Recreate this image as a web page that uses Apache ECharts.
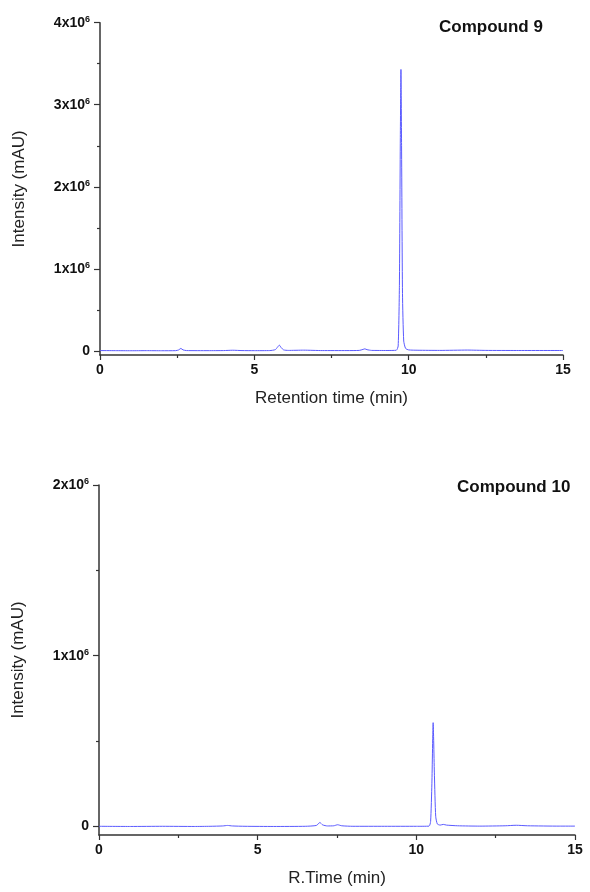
<!DOCTYPE html>
<html>
<head>
<meta charset="utf-8">
<script src="https://cdn.jsdelivr.net/npm/echarts@6/dist/echarts.min.js"></script>
<style>html,body{margin:0;padding:0;background:#fff}#c{width:590px;height:892px}</style>
</head>
<body>
<div id="c"></div>
<script>
// ---- Data (Compound 9) ----
var times9 = [0, 0.5, 1.0, 1.5, 2.0, 2.45, 2.55, 2.62, 2.69, 2.8, 3.5, 4.0, 4.3, 4.6, 5.0, 5.5, 5.68, 5.75, 5.81, 5.87, 5.95, 6.1, 6.6, 7.2, 8.0, 8.4, 8.52, 8.58, 8.65, 8.8, 9.3, 9.6, 9.66, 9.7, 9.73, 9.75, 9.77, 9.8, 9.84, 9.9, 10.0, 10.3, 11.0, 11.9, 12.5, 13.5, 15.0];
var intensity9 = [4000, 3000, 2000, 3000, 2000, 3000, 12000, 30000, 12000, 4000, 3000, 4000, 8000, 4000, 3000, 4000, 15000, 45000, 70000, 40000, 12000, 6000, 9000, 4000, 4000, 6000, 18000, 25000, 15000, 6000, 5000, 8000, 60000, 800000, 2600000, 3430000, 2500000, 700000, 120000, 30000, 12000, 8000, 6000, 10000, 6000, 5000, 5000];
// ---- Data (Compound 10) ----
var times10 = [0, 1, 2, 3, 3.5, 3.9, 4.05, 4.2, 4.6, 5.5, 6.5, 6.85, 6.96, 7.05, 7.2, 7.4, 7.52, 7.65, 8.0, 9.0, 10.0, 10.4, 10.45, 10.49, 10.53, 10.57, 10.61, 10.66, 10.75, 10.85, 10.95, 11.3, 12.0, 12.8, 13.15, 13.5, 14.5, 15.0];
var intensity10 = [1000, 0, 1000, 0, 1000, 3000, 6000, 3000, 1000, 0, 1000, 6000, 23000, 9000, 3000, 4000, 10000, 4000, 1000, 1000, 1000, 2000, 30000, 250000, 608000, 300000, 60000, 15000, 8000, 12000, 8000, 4000, 2000, 4000, 7000, 4000, 2000, 2000];
// ---- Ticks ----
var yMajor9 = [0, 1000000, 2000000, 3000000, 4000000];
var yMinor9 = [500000, 1500000, 2500000, 3500000];
var yMajor10 = [0, 1000000, 2000000];
var yMinor10 = [500000, 1500000];
var xTicks = [0, 5, 10, 15];
var titles = ['Compound 9', 'Compound 10'];
var xNames = ['Retention time (min)', 'R.Time (min)'];
var yName = 'Intensity (mAU)';

var FONT = 'Arial, "Liberation Sans", sans-serif';
var AX = '#333333';
var LINE = '#5a5aff';

function pair(t, v) { return t.map(function (x, i) { return [x, v[i]]; }); }

function yLabelFmt(v) {
  if (v === 0) return '{b|0}';
  return '{b|' + (v / 1e6) + 'x10}{s|6}';
}
var richY = {
  b: { fontFamily: FONT, fontWeight: 'bold', fontSize: 14, color: '#111', lineHeight: 16 },
  s: { fontFamily: FONT, fontWeight: 'bold', fontSize: 9, color: '#111', verticalAlign: 'top', lineHeight: 9 }
};

function xAxisCfg(gi, name) {
  return {
    type: 'value', gridIndex: gi, min: 0, max: 15, interval: 5,
    name: name, nameLocation: 'middle', nameGap: 35,
    nameTextStyle: { fontFamily: FONT, fontSize: 17, color: '#222' },
    axisLine: { onZero: false, lineStyle: { color: AX, width: 1.5 } },
    axisTick: { length: 5, lineStyle: { color: AX, width: 1.2 } },
    minorTick: { show: true, splitNumber: 2, length: 3, lineStyle: { color: AX, width: 1.2 } },
    axisLabel: { margin: 8, fontFamily: FONT, fontWeight: 'bold', fontSize: 14, color: '#111' },
    splitLine: { show: false }, minorSplitLine: { show: false }
  };
}
function yAxisCfg(gi, max, major, showName) {
  return {
    type: 'value', gridIndex: gi, min: -50000, max: max,
    name: showName ? yName : '', nameLocation: 'middle', nameGap: 72,
    nameTextStyle: { fontFamily: FONT, fontSize: 17, color: '#222' },
    axisLine: { show: true, lineStyle: { color: AX, width: 1.5 } },
    axisTick: { show: true, length: 6, customValues: major, lineStyle: { color: AX, width: 1.2 } },
    axisLabel: { show: true, margin: 10, customValues: major, formatter: yLabelFmt, rich: richY },
    splitLine: { show: false }
  };
}
function yMinorCfg(gi, max, minor) {
  return {
    type: 'value', gridIndex: gi, min: -50000, max: max, position: 'left',
    axisLine: { show: false },
    axisTick: { show: true, length: 3, customValues: minor, lineStyle: { color: AX, width: 1.2 } },
    axisLabel: { show: false },
    splitLine: { show: false }
  };
}

var chart = echarts.init(document.getElementById('c'), null, { renderer: 'canvas' });
chart.setOption({
  animation: false,
  backgroundColor: '#ffffff',
  title: [
    { text: titles[0], left: 439, top: 19, padding: 0, textStyle: { fontFamily: FONT, fontWeight: 'bold', fontSize: 17, color: '#111' } },
    { text: titles[1], left: 457, top: 479, padding: 0, textStyle: { fontFamily: FONT, fontWeight: 'bold', fontSize: 17, color: '#111' } }
  ],
  grid: [
    { left: 100, top: 22.7, width: 463, height: 332.3, outerBoundsMode: 'none', containLabel: false },
    { left: 99, top: 485, width: 476, height: 350, outerBoundsMode: 'none', containLabel: false }
  ],
  xAxis: [xAxisCfg(0, xNames[0]), xAxisCfg(1, xNames[1])],
  yAxis: [
    yAxisCfg(0, 4000000, yMajor9, true),
    yMinorCfg(0, 4000000, yMinor9),
    yAxisCfg(1, 2000000, yMajor10, true),
    yMinorCfg(1, 2000000, yMinor10)
  ],
  series: [
    { type: 'line', xAxisIndex: 0, yAxisIndex: 0, data: pair(times9, intensity9), showSymbol: false, lineStyle: { color: LINE, width: 1 }, smooth: 0.2 },
    { type: 'line', xAxisIndex: 1, yAxisIndex: 2, data: pair(times10, intensity10), showSymbol: false, lineStyle: { color: LINE, width: 1 }, smooth: 0.2 }
  ]
});
</script>
</body>
</html>
